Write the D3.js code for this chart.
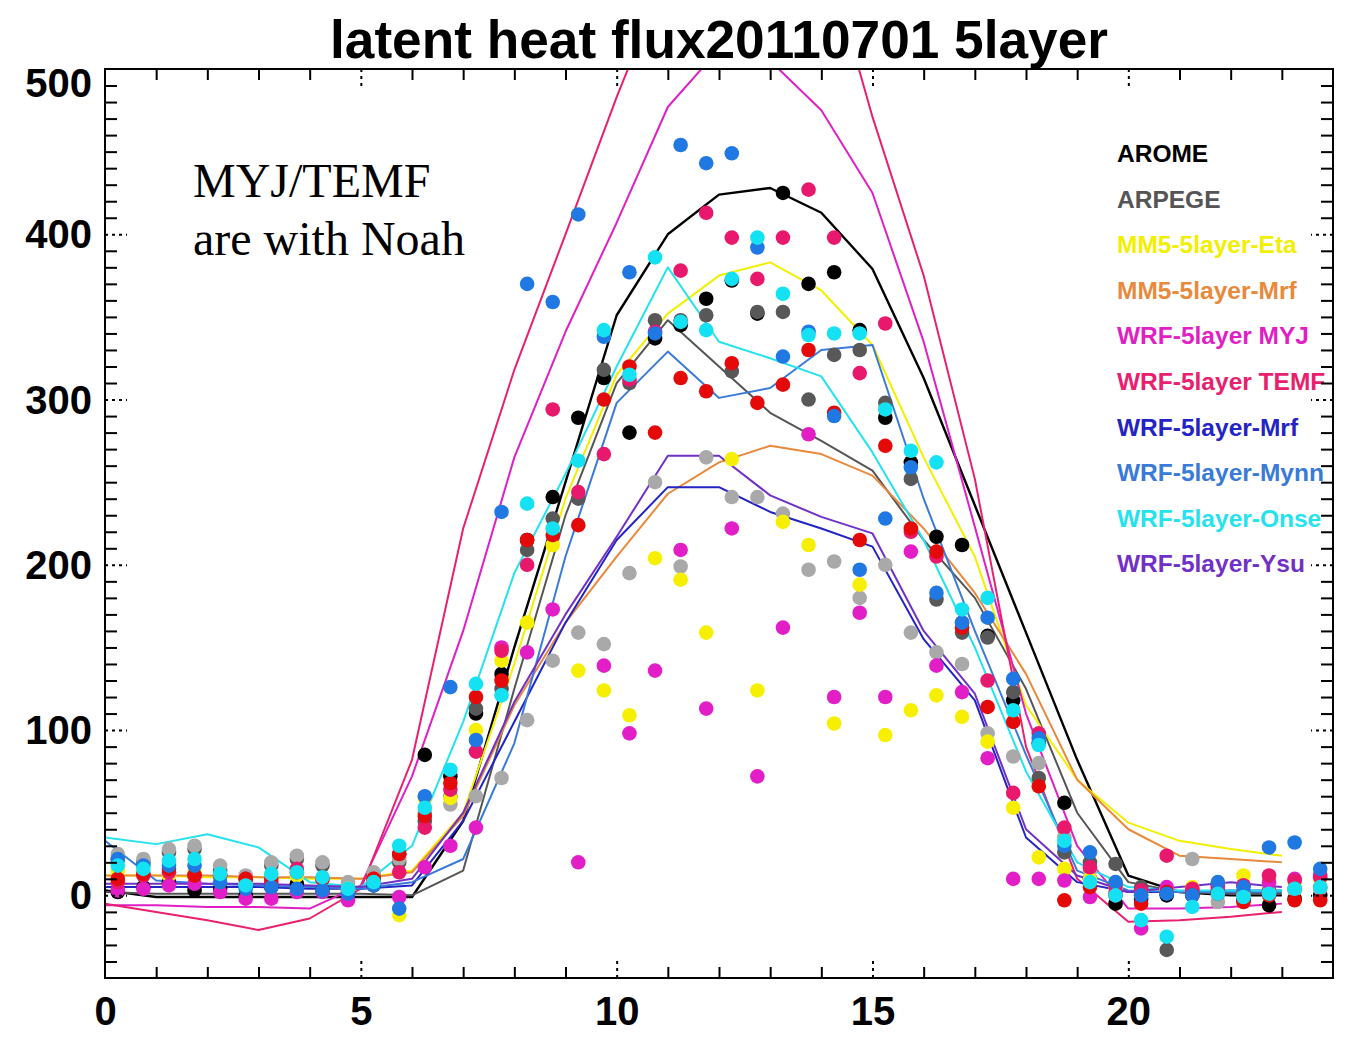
<!DOCTYPE html>
<html>
<head>
<meta charset="utf-8">
<script src="https://cdn.jsdelivr.net/npm/d3@7"></script>
<style>
  body { margin: 0; background: #fff; }
</style>
</head>
<body>
<svg id="chart" width="1349" height="1041"></svg>
<script>
// ---- model output, hourly (h = 0..23), W m-2 ----
const hours = [0,1,2,3,4,5,6,7,8,9,10,11,12,13,14,15,16,17,18,19,20,21,22,23];
const aromeFlux  = [3,-1,-1,-1,-1,-1,-1,45,150,250,351,400,424,428,413,379,313,236,159,82,12,2,0,0];
const arpegeFlux = [2,1,1,1,1,1,0,15,125,230,310,348,320,292,275,257,215,180,125,50,8,2,1,1];
const mm5EtaFlux = [12,12,11,11,10,10,15,50,140,240,315,352,375,383,366,333,265,205,115,70,44,33,28,24];
const mm5MrfFlux = [12,12,12,11,11,10,14,48,115,165,205,243,262,272,267,254,222,183,134,70,40,24,22,20];
const wrfMyjFlux = [-6,-6,-7,-7,-8,6,72,160,265,341,407,477,512,505,475,425,335,223,110,30,-8,-8,-7,-5];
const wrfTemfFlux= [-5,-10,-15,-21,-14,4,82,222,318,400,483,560,610,620,580,471,375,252,90,10,-16,-15,-13,-10];
const wrfMrfFlux = [5,5,5,5,4,4,6,45,105,165,215,247,247,232,222,211,155,118,35,8,2,2,3,3];
const wrfMynnFlux= [33,9,7,6,5,4,8,22,92,205,298,329,301,307,330,333,240,160,85,15,3,2,2,2];
const wrfOnseFlux= [35,31,37,29,8,5,30,105,195,255,320,380,335,325,314,268,215,150,75,20,5,3,3,3];
const wrfYsuFlux = [7,7,7,7,6,5,10,50,117,170,217,266,266,242,229,219,160,122,40,12,2,5,8,5];

const modelNames = ["AROME","ARPEGE","MM5-5layer-Eta","MM5-5layer-Mrf","WRF-5layer MYJ",
                    "WRF-5layer TEMF","WRF-5layer-Mrf","WRF-5layer-Mynn","WRF-5layer-Onse","WRF-5layer-Ysu"];
const modelColors = ["#000000","#555555","#f2ef00","#e8893c","#e01fc4",
                     "#e8206e","#2323c6","#3a7ad8","#26e2ee","#7131c6"];
const modelSeries = [aromeFlux, arpegeFlux, mm5EtaFlux, mm5MrfFlux, wrfMyjFlux,
                     wrfTemfFlux, wrfMrfFlux, wrfMynnFlux, wrfOnseFlux, wrfYsuFlux];

// ---- half-hourly station observations ----
const obsHours = [0.25,0.75,1.25,1.75,2.25,2.75,3.25,3.75,4.25,4.75,5.25,5.75,6.25,6.75,7.25,7.75,
                  8.25,8.75,9.25,9.75,10.25,10.75,11.25,11.75,12.25,12.75,13.25,13.75,14.25,14.75,15.25,15.75,
                  16.25,16.75,17.25,17.75,18.25,18.75,19.25,19.75,20.25,20.75,21.25,21.75,22.25,22.75,23.25,23.75];
const obsBlack   = [2,5,8,3,4,0,5,7,3,2,6, 25,85,72,110,134,215,241,289,313,280,337,345,361,372,352,425,370,377,342,289,262,217,212,157,118,92,56,10,-5,-2,0,0,2,-3,-6,-2,0];
const obsDimgray = [22,20,26,28,15,10,18,22,18,5,12, 20,45,60,113,125,209,228,240,318,310,348,348,351,317,353,353,300,327,330,298,252,179,159,156,123,71,26,20,19,5,-33,2,3,2,3,4,5];
const obsSilver  = [25,22,28,30,18,12,20,24,20,8,14, 22,50,55,60,71,106,142,159,152,195,250,199,265,241,241,231,197,202,180,200,159,147,140,98,84,80,35,15,8,0,3,22,-4,0,2,3,4];
const obsYellow  = [15,14,12,14,10,7,12,12,10,4,8, -12,59,59,100,142,165,212,136,124,109,204,191,159,264,124,226,212,104,188,97,112,121,108,93,53,23,16,10,5,2,4,5,8,12,10,8,10];
const obsMagenta = [3,4,6,7,2,-2,-2,2,2,-3,8, -1,17,30,41,150,147,173,20,139,98,136,209,113,222,72,162,279,120,171,120,208,139,123,83,10,10,9,-1,2,-20,5,3,5,6,8,10,12];
const obsCrimson = [8,12,14,12,12,10,8,16,10,2,10, 14,41,64,87,148,200,294,244,267,312,341,378,413,398,373,398,427,398,316,346,220,205,165,130,62,98,41,17,6,3,24,4,6,6,12,9,11];
const obsRed     = [10,13,16,12,12,10,10,14,10,3,10, 25,48,68,120,130,215,218,224,300,320,280,313,305,322,298,309,330,292,215,272,222,208,162,114,105,66,-3,5,0,-5,2,0,1,-4,0,-3,-3];
const obsBlue    = [22,18,18,18,8,4,5,4,3,1,6, -8,60,126,94,232,370,359,412,338,377,340,454,443,449,392,326,341,290,197,228,259,183,165,168,131,95,30,26,8,0,1,0,8,5,29,32,16];
const obsCyan    = [18,16,21,22,13,6,13,14,11,4,8, 30,53,76,128,121,237,222,263,342,315,386,347,342,373,398,364,339,340,340,294,269,262,173,180,112,91,33,8,0,-15,-25,-7,1,-1,1,4,5];

const obsSeries = [obsBlack, obsDimgray, obsSilver, obsYellow, obsMagenta, obsCrimson, obsRed, obsBlue, obsCyan];
const obsColors = ["#000000","#585858","#a9a9a9","#f6ef00","#e21ec6","#e8186c","#e40a0a","#2078e2","#14e2f2"];

// ---- axis ticks ----
const xLabelTicks = [0,5,10,15,20];
const yLabelTicks = [0,100,200,300,400,500];

// ---- layout ----
const W = 1349, H = 1041;
const x = d3.scaleLinear().domain([0, 24]).range([105, 1333]);
const y = d3.scaleLinear().domain([-50, 500]).range([978, 69]);
const [x0, x1] = x.range();
const [yb, yt] = y.range();
const sansBold = "'Liberation Sans', Arial, Helvetica, sans-serif";

const svg = d3.select("#chart");
svg.append("rect").attr("width", W).attr("height", H).attr("fill", "#fff");

svg.append("defs").append("clipPath").attr("id", "plotArea")
  .append("rect").attr("x", x0).attr("y", yt).attr("width", x1 - x0).attr("height", yb - yt);

// title
svg.append("text")
  .attr("x", (x0 + x1) / 2).attr("y", 58)
  .attr("text-anchor", "middle")
  .attr("font-family", sansBold).attr("font-weight", "bold").attr("font-size", 54)
  .attr("textLength", 778).attr("lengthAdjust", "spacingAndGlyphs")
  .text("latent heat flux20110701 5layer");

const plot = svg.append("g").attr("clip-path", "url(#plotArea)");

// model curves
const line = d3.line().x((d, i) => x(hours[i])).y(d => y(d));
modelSeries.forEach((vals, i) => {
  plot.append("path")
    .datum(vals)
    .attr("d", line)
    .attr("fill", "none")
    .attr("stroke", modelColors[i])
    .attr("stroke-width", i === 0 ? 2.4 : 2)
    .attr("stroke-linejoin", "round");
});

// observation dots
obsSeries.forEach((vals, i) => {
  plot.append("g").selectAll("circle")
    .data(vals.map((v, k) => ({ t: obsHours[k], v })).filter(d => d.v !== null))
    .join("circle")
    .attr("cx", d => x(d.t))
    .attr("cy", d => y(d.v))
    .attr("r", 7.3)
    .attr("fill", obsColors[i]);
});

// legend (clipped by the frame like the plot contents)
const legend = plot.append("g");
modelNames.forEach((name, i) => {
  legend.append("text")
    .attr("x", 1117).attr("y", 162 + 45.6 * i)
    .attr("font-family", sansBold).attr("font-weight", "bold").attr("font-size", 24.5)
    .attr("fill", modelColors[i])
    .text(name);
});

// annotation
const note = svg.append("text")
  .attr("font-family", "'Liberation Serif', 'Times New Roman', serif")
  .attr("font-size", 48).attr("fill", "#000");
note.append("tspan").attr("x", 193).attr("y", 197).text("MYJ/TEMF");
note.append("tspan").attr("x", 193).attr("y", 255).text("are with Noah");

// ---- ticks ----
const minorX = hours.filter(h => h > 0 && h % 5 !== 0);
const majorX = [5, 10, 15, 20];
const minorY = d3.range(-40, 500, 10).filter(v => v % 100 !== 0);
const majorY = [0, 100, 200, 300, 400];

function styleTicks(g, dashed) {
  g.select(".domain").remove();
  g.selectAll(".tick line").attr("stroke", "#000").attr("stroke-width", 2)
    .attr("stroke-dasharray", dashed ? "3,4" : null);
}
const axes = svg.append("g");
axes.append("g").attr("transform", `translate(0,${yb})`)
  .call(d3.axisBottom(x).tickValues(minorX).tickSize(-11).tickFormat("")).call(g => styleTicks(g, false));
axes.append("g").attr("transform", `translate(0,${yt})`)
  .call(d3.axisTop(x).tickValues(minorX).tickSize(-11).tickFormat("")).call(g => styleTicks(g, false));
axes.append("g").attr("transform", `translate(0,${yb})`)
  .call(d3.axisBottom(x).tickValues(majorX).tickSize(-21).tickFormat("")).call(g => styleTicks(g, true));
axes.append("g").attr("transform", `translate(0,${yt})`)
  .call(d3.axisTop(x).tickValues(majorX).tickSize(-21).tickFormat("")).call(g => styleTicks(g, true));
axes.append("g").attr("transform", `translate(${x0},0)`)
  .call(d3.axisLeft(y).tickValues(minorY).tickSize(-12).tickFormat("")).call(g => styleTicks(g, false));
axes.append("g").attr("transform", `translate(${x1},0)`)
  .call(d3.axisRight(y).tickValues(minorY).tickSize(-12).tickFormat("")).call(g => styleTicks(g, false));
axes.append("g").attr("transform", `translate(${x0},0)`)
  .call(d3.axisLeft(y).tickValues(majorY).tickSize(-22).tickFormat("")).call(g => styleTicks(g, true));
axes.append("g").attr("transform", `translate(${x1},0)`)
  .call(d3.axisRight(y).tickValues(majorY).tickSize(-22).tickFormat("")).call(g => styleTicks(g, true));

// frame
svg.append("rect")
  .attr("x", x0).attr("y", yt).attr("width", x1 - x0).attr("height", yb - yt)
  .attr("fill", "none").attr("stroke", "#000").attr("stroke-width", 2);

// tick labels
const xLab = svg.append("g").attr("transform", `translate(0,${yb})`)
  .call(d3.axisBottom(x).tickValues(xLabelTicks).tickSize(0).tickPadding(19).tickFormat(d3.format("d")));
xLab.select(".domain").remove();
xLab.selectAll("text").attr("font-family", sansBold).attr("font-weight", "bold")
  .attr("font-size", 40).attr("fill", "#000");

const yLab = svg.append("g").attr("transform", `translate(${x0},0)`)
  .call(d3.axisLeft(y).tickValues(yLabelTicks).tickSize(0).tickPadding(13).tickFormat(d3.format("d")));
yLab.select(".domain").remove();
yLab.selectAll("text").attr("font-family", sansBold).attr("font-weight", "bold")
  .attr("font-size", 40).attr("fill", "#000")
  .attr("dy", d => d === 500 ? "0.68em" : "0.34em");
</script>
</body>
</html>
